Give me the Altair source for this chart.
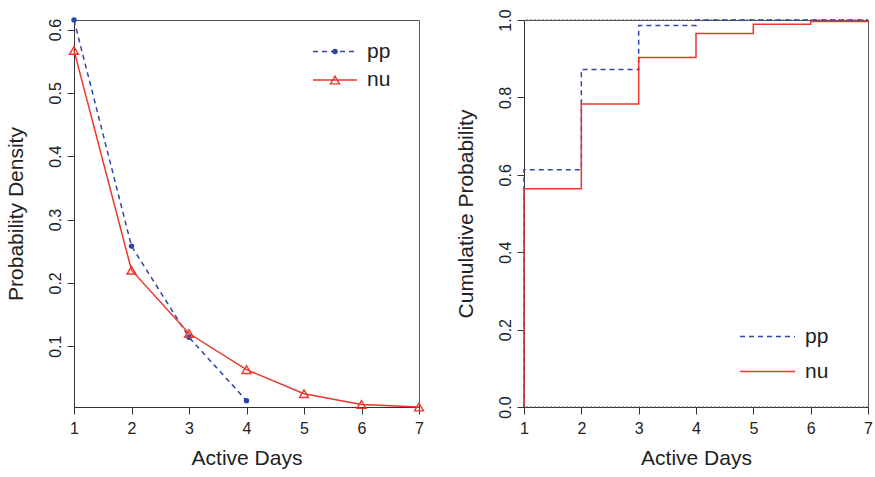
import altair as alt
import pandas as pd

# ---- data ----
series_names = ["pp", "nu"]
days_pp = [1, 2, 3, 4]
density_pp = [0.615, 0.258, 0.114, 0.014]
days_nu = [1, 2, 3, 4, 5, 6, 7]
density_nu = [0.567, 0.220, 0.120, 0.063, 0.025, 0.008, 0.004]

cdf_days_pp = [1, 1, 2, 3, 4, 7]
cdf_pp = [0.0, 0.613, 0.872, 0.986, 1.0, 1.0]
cdf_days_nu = [1, 1, 2, 3, 4, 5, 6, 7]
cdf_nu = [0.0, 0.564, 0.783, 0.903, 0.965, 0.989, 0.996, 1.0]

x_ticks = [1, 2, 3, 4, 5, 6, 7]
y_ticks_left = [0.1, 0.2, 0.3, 0.4, 0.5, 0.6]
y_ticks_right = [0.0, 0.2, 0.4, 0.6, 0.8, 1.0]
cdf_bounds = [0.0, 1.0]

BLUE = "#2F46A8"
RED = "#E8382C"
FONT = "Liberation Sans"

df_pp = pd.DataFrame({"day": days_pp, "density": density_pp})
df_nu = pd.DataFrame({"day": days_nu, "density": density_nu})
df_cpp = pd.DataFrame({"day": cdf_days_pp, "cdf": cdf_pp, "idx": range(len(cdf_pp))})
df_cnu = pd.DataFrame({"day": cdf_days_nu, "cdf": cdf_nu, "idx": range(len(cdf_nu))})
df_bounds = pd.DataFrame({"cdf": cdf_bounds})

all_dens = density_pp + density_nu
x_scale = alt.Scale(domain=[min(x_ticks), max(x_ticks)], nice=False, zero=False)
y_scale_l = alt.Scale(domain=[min(all_dens), max(all_dens)], nice=False, zero=False)
y_scale_r = alt.Scale(domain=[0, 1], nice=False, zero=False)

x_axis = alt.Axis(values=x_ticks, format="d", title="Active Days", labelFlush=False)
y_axis_l = alt.Axis(values=y_ticks_left, format=".1f", title="Probability Density")
y_axis_r = alt.Axis(values=y_ticks_right, format=".1f", title="Cumulative Probability")

W_L, W_R, H = 345, 344, 387

# ---------- left panel ----------
X_L = alt.X("day:Q", scale=x_scale, axis=x_axis)
Y_L = alt.Y("density:Q", scale=y_scale_l, axis=y_axis_l)

pp_line = alt.Chart(df_pp).mark_line(color=BLUE, strokeDash=[5, 4], strokeWidth=1.5, clip=False).encode(x=X_L, y=Y_L)
pp_pts = alt.Chart(df_pp).mark_point(shape="circle", filled=True, size=30, color=BLUE, opacity=1).encode(x=X_L, y=Y_L)
nu_line = alt.Chart(df_nu).mark_line(color=RED, strokeWidth=1.5).encode(x=X_L, y=Y_L)
nu_pts = alt.Chart(df_nu).mark_point(shape="triangle-up", filled=False, size=80, color=RED, strokeWidth=1.4, opacity=1).encode(x=X_L, y=Y_L)

def legend_layers(names, x0, x1, xt, ys, with_markers):
    layers = []
    for i, name in enumerate(names):
        d = pd.DataFrame({"label": [name]})
        col = BLUE if i == 0 else RED
        dash = [5, 4] if i == 0 else [1, 0]
        layers.append(alt.Chart(d).mark_rule(color=col, strokeWidth=1.5, strokeDash=dash).encode(
            x=alt.value(x0), x2=alt.value(x1), y=alt.value(ys[i])))
        if with_markers:
            if i == 0:
                layers.append(alt.Chart(d).mark_point(shape="circle", filled=True, size=30, color=col, opacity=1).encode(
                    x=alt.value((x0 + x1) / 2), y=alt.value(ys[i])))
            else:
                layers.append(alt.Chart(d).mark_point(shape="triangle-up", filled=False, size=80, color=col, strokeWidth=1.4, opacity=1).encode(
                    x=alt.value((x0 + x1) / 2), y=alt.value(ys[i])))
        layers.append(alt.Chart(d).mark_text(align="left", baseline="middle", fontSize=21, font=FONT, color="#222").encode(
            x=alt.value(xt), y=alt.value(ys[i]), text="label:N"))
    return layers

left = alt.layer(
    pp_line, pp_pts, nu_line, nu_pts,
    *legend_layers(series_names, 239, 283, 293, [31.5, 60], True)
).properties(width=W_L, height=H)

# ---------- right panel ----------
X_R = alt.X("day:Q", scale=x_scale, axis=x_axis)
Y_R = alt.Y("cdf:Q", scale=y_scale_r, axis=y_axis_r)

bounds = alt.Chart(df_bounds).mark_rule(color="#555", strokeDash=[2, 2], strokeWidth=1).encode(y=Y_R)
pp_step = alt.Chart(df_cpp).mark_line(interpolate="step-after", color=BLUE, strokeDash=[5, 4], strokeWidth=1.5).encode(
    x=X_R, y=Y_R, order="idx:Q")
nu_step = alt.Chart(df_cnu).mark_line(interpolate="step-after", color=RED, strokeWidth=1.5).encode(
    x=X_R, y=Y_R, order="idx:Q")

right = alt.layer(
    bounds, pp_step, nu_step,
    *legend_layers(series_names, 216, 271, 281, [316.5, 351.5], False)
).properties(width=W_R, height=H)

chart = alt.hconcat(left, right, spacing=27).properties(
    padding={"left": 4, "top": 8, "right": 2, "bottom": 4}
).configure_view(
    stroke="#555", strokeWidth=1
).configure_axis(
    grid=False,
    labelFont=FONT, titleFont=FONT,
    labelFontSize=16, titleFontSize=21,
    labelColor="#222", titleColor="#222",
    titleFontWeight="normal",
    domainColor="#333", tickColor="#333",
    tickSize=7, domainWidth=1, tickWidth=1,
).configure_axisX(
    labelPadding=6, titlePadding=11,
).configure_axisY(
    labelAngle=270, labelAlign="center", labelBaseline="alphabetic",
    labelPadding=7, titlePadding=21,
)

chart.save("out.html", embed_options={"renderer": "svg", "actions": False})
